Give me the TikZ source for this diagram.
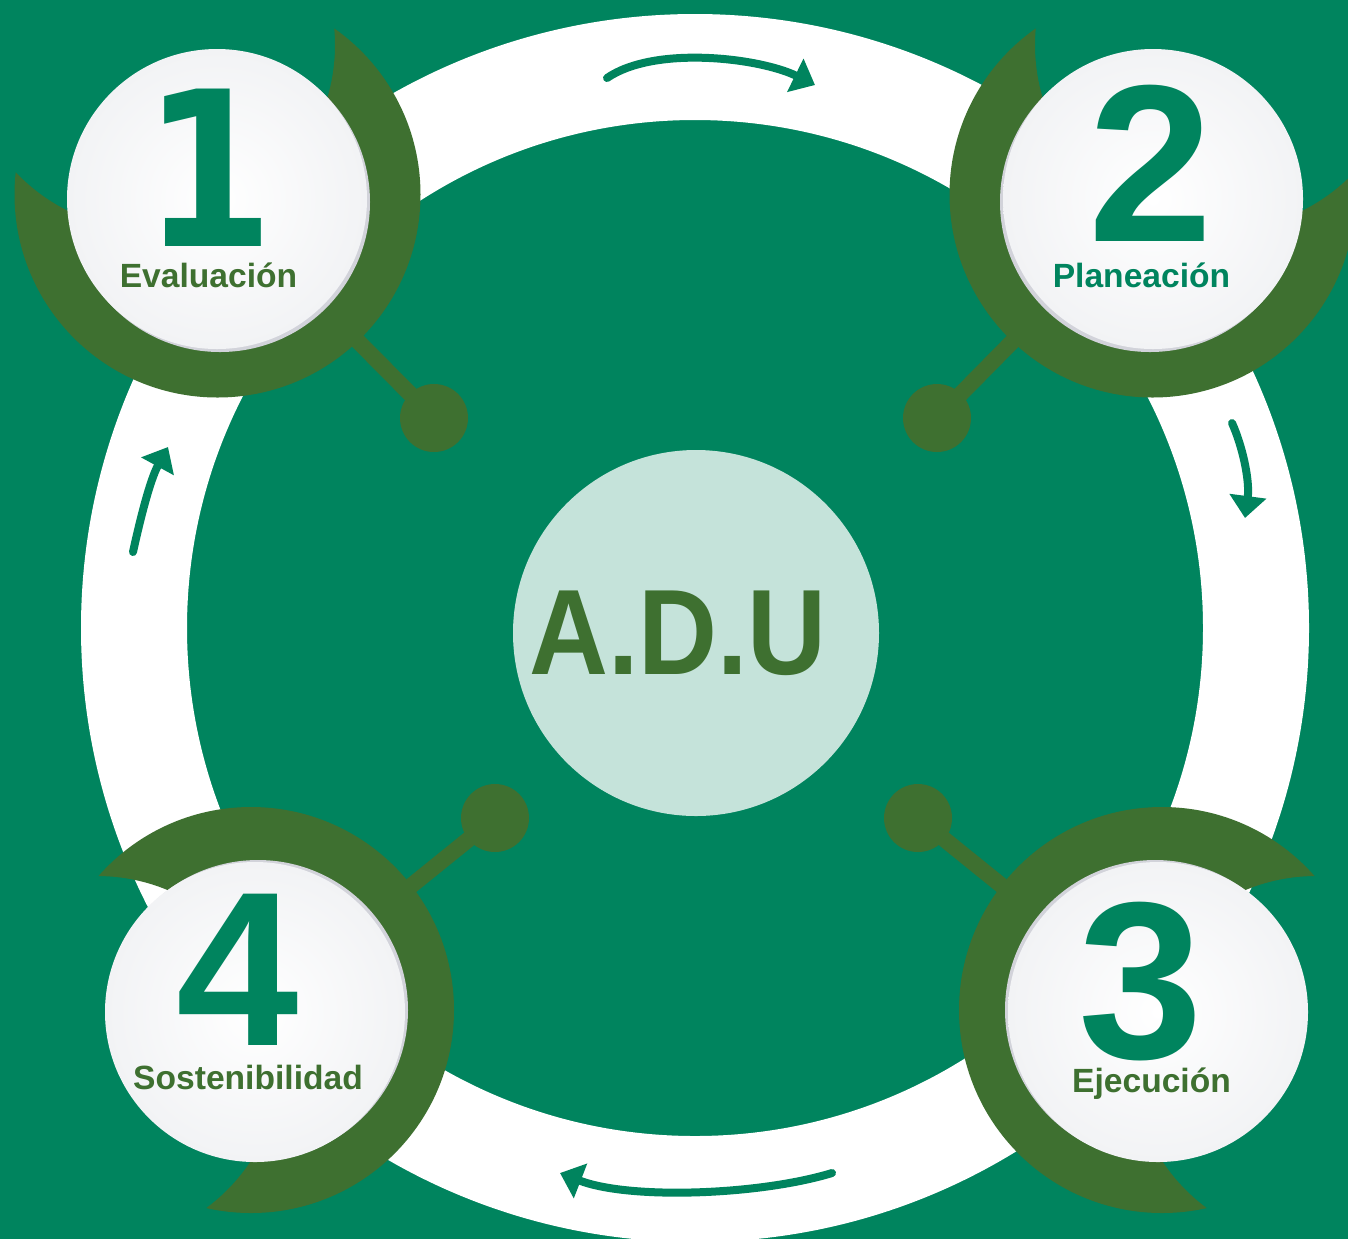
\documentclass[tikz,border=0pt]{standalone}
\usepackage{fontspec}
\setmainfont{Liberation Sans}
\newfontfamily\djv{DejaVu Sans}
\usetikzlibrary{arrows.meta}
\definecolor{bgteal}{HTML}{00845E}
\definecolor{dkgreen}{HTML}{3E7030}
\definecolor{paleteal}{HTML}{C5E3DA}
\definecolor{rimgrey}{HTML}{D2D3DA}
\definecolor{discgrey}{HTML}{F2F3F5}
\begin{document}
\begin{tikzpicture}[x=0.5pt,y=-0.5pt,
  ringarrow/.style={draw=bgteal, line width=4pt, line cap=round, -{Triangle[length=11pt,width=18pt]}},
  stem/.style={draw=dkgreen, line width=8pt},
  knob/.style={circle, fill=dkgreen, minimum size=34pt, inner sep=0pt},
  disc/.style={circle, minimum size=150pt, inner sep=0pt, inner color=white, outer color=discgrey},
  rim/.style={fill=rimgrey},
  numtxt/.style={text=bgteal, inner sep=0pt, anchor=base, text depth=0pt},
  labtxt/.style={font=\bfseries\fontsize{16.8}{17}\selectfont, inner sep=0pt, anchor=base, text height=12pt},
]
\useasboundingbox (0,0) rectangle (1348,1239);
\fill[bgteal] (0,0) rectangle (1348,1239);
% ring
\fill[white, even odd rule] (695,628) circle[radius=307pt] (695,628) circle[radius=254pt];
% arrows on the ring
\coordinate (a1s) at (607,78);  \coordinate (a1e) at (815,85);
\coordinate (a2s) at (1232,423); \coordinate (a2e) at (1245,518);
\coordinate (a3s) at (832,1173); \coordinate (a3e) at (560,1173);
\coordinate (a4s) at (133,552); \coordinate (a4e) at (168,447);
\draw[ringarrow] (a1s) .. controls (655,45) and (760,58) .. (a1e);
\draw[ringarrow] (a2s) .. controls (1242,445) and (1250,480) .. (a2e);
\draw[ringarrow] (a3s) .. controls (760,1195) and (630,1200) .. (a3e);
\draw[ringarrow] (a4s) .. controls (140,520) and (150,480) .. (a4e);
% centres
\coordinate (c1) at (217,199);
\coordinate (c2) at (1153,199);
\coordinate (c3) at (1158,1012);
\coordinate (c4) at (255,1012);
% stems and knobs
\node[knob] (d1) at (434,418) {};
\node[knob] (d2) at (937,418) {};
\node[knob] (d3) at (918,818) {};
\node[knob] (d4) at (495,818) {};
\draw[stem] (c1) -- (d1.center);
\draw[stem] (c2) -- (d2.center);
\draw[stem] (c3) -- (d3.center);
\draw[stem] (c4) -- (d4.center);
% crescents
\begin{scope}[even odd rule]
  \clip (-10,-10) rectangle (1360,1250) (150,45) circle[radius=92.5pt];
  \fill[dkgreen] (217.5,194.5) circle[radius=101.5pt];
\end{scope}
\begin{scope}[even odd rule]
  \clip (-10,-10) rectangle (1360,1250) (1220,45) circle[radius=92.5pt];
  \fill[dkgreen] (1152.5,194.5) circle[radius=101.5pt];
\end{scope}
\begin{scope}[even odd rule]
  \clip (-10,-10) rectangle (1360,1250) (1316,1060) circle[radius=92pt];
  \fill[dkgreen] (1162,1010) circle[radius=101.5pt];
\end{scope}
\begin{scope}[even odd rule]
  \clip (-10,-10) rectangle (1360,1250) (97,1060) circle[radius=92pt];
  \fill[dkgreen] (251,1010) circle[radius=101.5pt];
\end{scope}
% discs
\fill[rim] (220,202) circle[radius=75pt];
\fill[rim] (1150,202) circle[radius=75pt];
\fill[rim] (1155,1010) circle[radius=75pt];
\fill[rim] (258,1010) circle[radius=75pt];
\node[disc] (n1) at (c1) {};
\node[disc] (n2) at (c2) {};
\node[disc] (n3) at (c3) {};
\node[disc] (n4) at (c4) {};
% numbers
\node[numtxt, font=\djv\bfseries\fontsize{108}{108}\selectfont] (t1) at (209,246) {\scalebox{0.87}[1]{1}};
\node[numtxt, font=\bfseries\fontsize{112}{112}\selectfont] (t2) at (1151,241) {2};
\node[numtxt, font=\bfseries\fontsize{112}{112}\selectfont] (t3) at (1141,1058) {3};
\node[numtxt, font=\bfseries\fontsize{110}{110}\selectfont] (t4) at (238,1045) {4};
% labels
\node[labtxt, text=dkgreen] (l1) at (208.5,287) {Evaluación};
\node[labtxt, text=bgteal] (l2) at (1141.5,287) {Planeación};
\node[labtxt, text=dkgreen] (l3) at (1151.5,1092) {Ejecución};
\node[labtxt, text=dkgreen] (l4) at (248,1089) {Sostenibilidad};
% centre
\node[circle, fill=paleteal, minimum size=183pt, inner sep=0pt] (hub) at (696,633) {};
\node[text=dkgreen, inner sep=0pt, anchor=base, font=\bfseries\fontsize{60.75}{61}\selectfont] (adu) at (678,674) {\scalebox{0.9}[1]{A.D.U}};
\end{tikzpicture}
\end{document}
